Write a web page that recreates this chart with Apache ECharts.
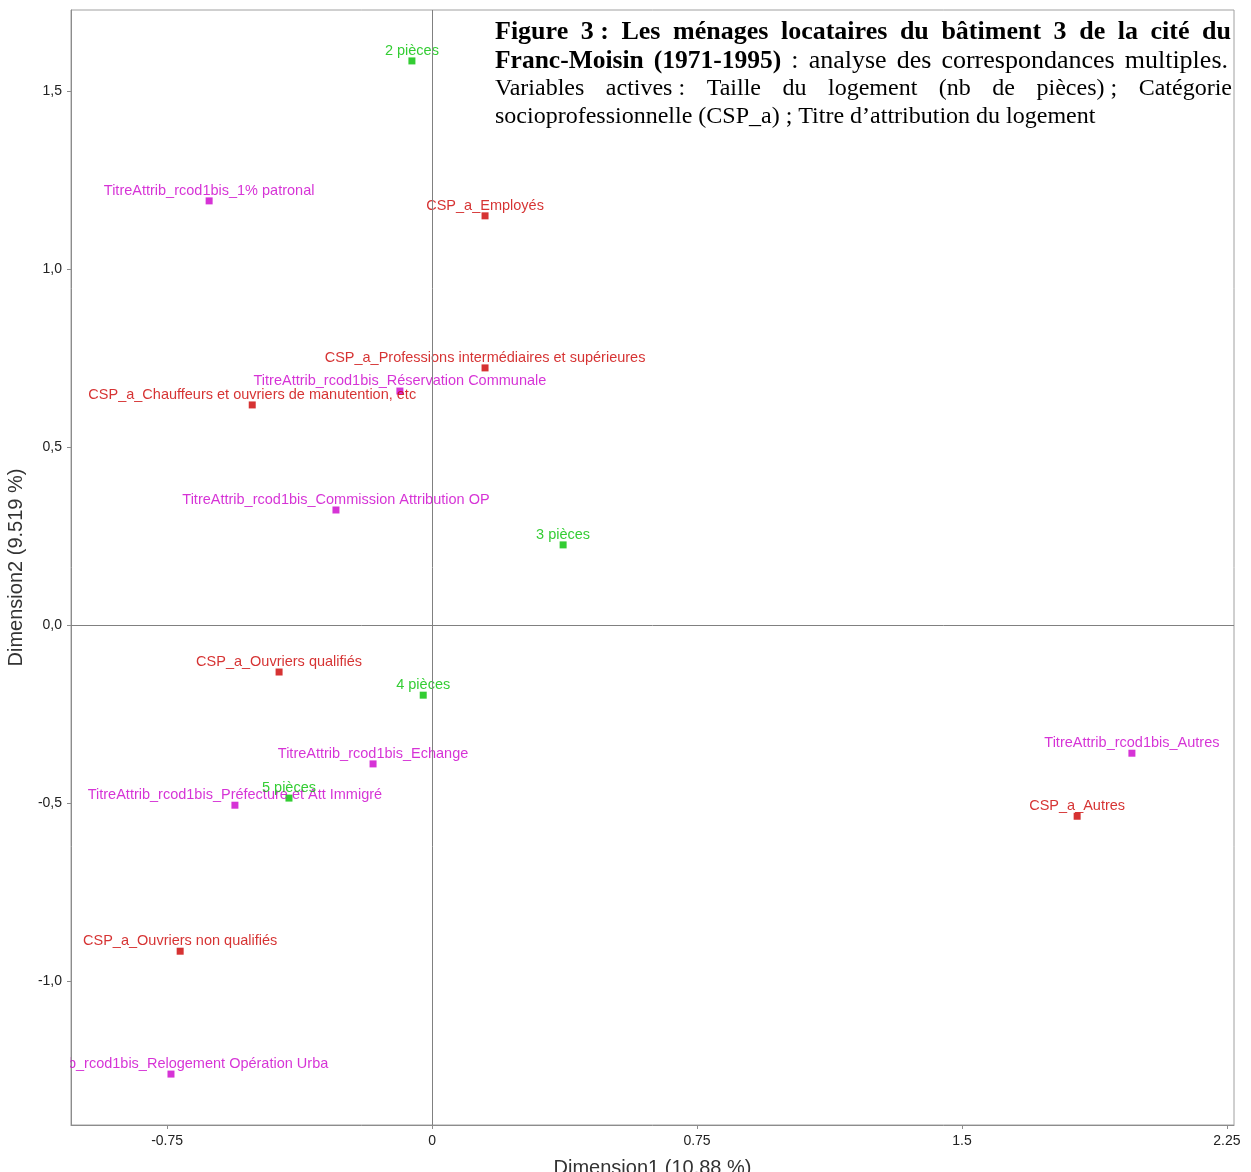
<!DOCTYPE html>
<html>
<head>
<meta charset="utf-8">
<script src="https://cdn.jsdelivr.net/npm/echarts@6/dist/echarts.min.js"></script>
<style>
  html, body { margin: 0; padding: 0; background: #fff; }
  #chart { width: 1251px; height: 1172px; }
</style>
</head>
<body>
<div id="chart"></div>
<script>
// Multiple correspondence analysis: coordinates of the active categories on dimensions 1 and 2.

// Socio-professional category (CSP_a)
const cspNames = [
  'CSP_a_Employés',
  'CSP_a_Professions intermédiaires et supérieures',
  'CSP_a_Chauffeurs et ouvriers de manutention, etc',
  'CSP_a_Ouvriers qualifiés',
  'CSP_a_Ouvriers non qualifiés',
  'CSP_a_Autres'
];
const cspDim1 = [0.150, 0.150, -0.509, -0.433, -0.713, 1.826];
const cspDim2 = [1.149, 0.722, 0.618, -0.132, -0.916, -0.537];

// Housing allocation channel
const titreNames = [
  'TitreAttrib_rcod1bis_1% patronal',
  'TitreAttrib_rcod1bis_Réservation Communale',
  'TitreAttrib_rcod1bis_Commission Attribution OP',
  'TitreAttrib_rcod1bis_Echange',
  'TitreAttrib_rcod1bis_Préfecture et Att Immigré',
  'TitreAttrib_rcod1bis_Relogement Opération Urba',
  'TitreAttrib_rcod1bis_Autres'
];
const titreDim1 = [-0.631, -0.091, -0.272, -0.167, -0.558, -0.739, 1.981];
const titreDim2 = [1.191, 0.657, 0.323, -0.390, -0.506, -1.261, -0.360];

// Dwelling size (number of rooms)
const piecesNames = ['2 pièces', '3 pièces', '4 pièces', '5 pièces'];
const piecesDim1 = [-0.057, 0.371, -0.025, -0.405];
const piecesDim2 = [1.584, 0.225, -0.197, -0.486];

// Axis ticks
const xTicks = [-0.75, 0, 0.75, 1.5, 2.25];
const yTicks = [-1.0, -0.5, 0, 0.5, 1.0, 1.5];
const xName = 'Dimension1 (10.88 %)';
const yName = 'Dimension2 (9.519 %)';

// Caption words
const titleLine1 = ['Figure', '3\u00a0:', 'Les', 'ménages', 'locataires', 'du', 'bâtiment', '3', 'de', 'la', 'cité', 'du'];
const titleLine2Bold = ['Franc-Moisin', '(1971-1995)'];
const titleLine2Normal = [':', 'analyse', 'des', 'correspondances', 'multiples.'];
const titleLine3 = ['Variables', 'actives\u00a0:', 'Taille', 'du', 'logement', '(nb', 'de', 'pièces)\u00a0;', 'Catégorie'];
const titleLine4 = 'socioprofessionnelle (CSP_a) ; Titre d’attribution du logement';

const SANS = '"Liberation Sans", Arial, sans-serif';
const SERIF = '"Liberation Serif", "Times New Roman", serif';

function pairs(xs, ys, names) {
  return xs.map((x, i) => ({ name: names[i], value: [x, ys[i]] }));
}

function pointSeries(name, color, xs, ys, names) {
  return {
    name: name,
    type: 'scatter',
    symbol: 'rect',
    symbolSize: 7,
    itemStyle: { color: color },
    label: {
      show: true,
      position: 'top',
      distance: -1,
      formatter: '{b}',
      color: color,
      fontFamily: SANS,
      fontSize: 14.5
    },
    data: pairs(xs, ys, names)
  };
}

// Justified caption lines built from measured words
const measureCtx = document.createElement('canvas').getContext('2d');
function wordWidth(text, weight, size) {
  measureCtx.font = weight + ' ' + size + 'px ' + SERIF;
  return measureCtx.measureText(text).width;
}
function captionLine(words, y, x0, x1, justify) {
  // words: [{text, weight, size}]
  const widths = words.map(w => wordWidth(w.text, w.weight, w.size));
  const total = widths.reduce((a, b) => a + b, 0);
  let gap;
  if (justify && words.length > 1) {
    gap = (x1 - x0 - total) / (words.length - 1);
  } else {
    gap = wordWidth(' ', words[0].weight, words[0].size);
  }
  const els = [];
  let x = x0;
  words.forEach((w, i) => {
    els.push({
      type: 'text',
      x: x,
      y: y,
      z: 50,
      style: {
        text: w.text,
        fontFamily: SERIF,
        fontWeight: w.weight,
        fontSize: w.size,
        fill: '#000',
        align: 'left',
        verticalAlign: 'middle'
      }
    });
    x += widths[i] + gap;
  });
  return els;
}

const capX0 = 495;
const captionEls = [].concat(
  captionLine(titleLine1.map(t => ({ text: t, weight: 'bold', size: 26 })), 32, capX0, 1231, true),
  captionLine(titleLine2Bold.map(t => ({ text: t, weight: 'bold', size: 25.5 }))
    .concat(titleLine2Normal.map(t => ({ text: t, weight: 'normal', size: 26 }))), 61, capX0, 1228, true),
  captionLine(titleLine3.map(t => ({ text: t, weight: 'normal', size: 24 })), 89, capX0, 1232, true),
  captionLine([{ text: titleLine4, weight: 'normal', size: 24 }], 117, capX0, 1232, false)
);

const chart = echarts.init(document.getElementById('chart'), null, { renderer: 'canvas' });

const axisGray = '#8c8c8c';

const option = {
  animation: false,
  backgroundColor: '#fff',
  grid: {
    left: 71, right: 17, top: 10, bottom: 47,
    containLabel: false,
    outerBoundsMode: 'none',
    show: true,
    borderColor: '#a0a0a0',
    borderWidth: 1,
    backgroundColor: 'transparent'
  },
  xAxis: {
    type: 'value',
    min: -1.022,
    max: 2.27,
    name: xName,
    nameLocation: 'middle',
    nameGap: 33,
    nameTextStyle: { fontFamily: SANS, fontSize: 20, color: '#333' },
    axisLine: { show: true, onZero: false, lineStyle: { color: axisGray } },
    axisTick: { show: true, length: 4, lineStyle: { color: axisGray }, customValues: xTicks },
    axisLabel: {
      customValues: xTicks,
      margin: 9,
      fontFamily: SANS,
      fontSize: 14,
      color: '#222',
      formatter: v => String(v)
    },
    splitLine: { show: false }
  },
  yAxis: {
    type: 'value',
    min: -1.404,
    max: 1.727,
    name: yName,
    nameLocation: 'middle',
    nameGap: 42,
    nameRotate: 90,
    nameTextStyle: { fontFamily: SANS, fontSize: 20, color: '#333' },
    axisLine: { show: true, onZero: false, lineStyle: { color: axisGray } },
    axisTick: { show: true, length: 4, lineStyle: { color: axisGray }, customValues: yTicks },
    axisLabel: {
      customValues: yTicks,
      margin: 9,
      fontFamily: SANS,
      fontSize: 14,
      color: '#222',
      formatter: v => v.toFixed(1).replace('.', ',')
    },
    splitLine: { show: false }
  },
  series: [
    Object.assign(pointSeries('CSP_a', '#cc0000', cspDim1, cspDim2, cspNames), {
      markLine: {
        silent: true,
        symbol: 'none',
        label: { show: false },
        lineStyle: { color: '#808080', type: 'solid', width: 1 },
        data: [{ xAxis: 0 }, { yAxis: 0 }],
        animation: false
      }
    }),
    pointSeries('TitreAttrib', '#cc00cc', titreDim1, titreDim2, titreNames),
    pointSeries('Pièces', '#00c000', piecesDim1, piecesDim2, piecesNames)
  ],
  graphic: captionEls.concat([
    // mask labels overflowing the left edge of the plotting area
    {
      type: 'rect',
      z: 100,
      shape: { x: 0, y: 1052, width: 70, height: 24 },
      style: { fill: '#fff' }
    }
  ])
};

chart.setOption(option);
</script>
</body>
</html>
